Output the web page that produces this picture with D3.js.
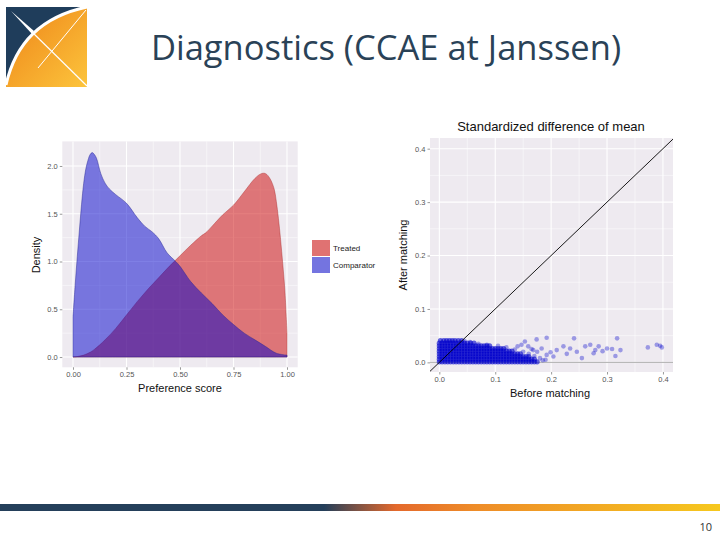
<!DOCTYPE html>
<html>
<head>
<meta charset="utf-8">
<script src="https://cdn.jsdelivr.net/npm/d3@7"></script>
<style>
body { margin: 0; background: #fff; }
svg { display: block; }
</style>
</head>
<body>
<svg id="slide" width="720" height="540"></svg>
<script>
// ---- data ----

// preference score distribution (left panel)
var treatedX = [0, 0.02, 0.05, 0.08, 0.10, 0.15, 0.20, 0.25, 0.30, 0.35, 0.40, 0.45, 0.50, 0.55, 0.60, 0.62, 0.65, 0.70, 0.75, 0.80, 0.85, 0.88, 0.90, 0.92, 0.94, 0.95, 0.96, 0.97, 0.98, 0.99, 1.00];
var treatedY = [0, 0.005, 0.02, 0.05, 0.08, 0.18, 0.30, 0.44, 0.58, 0.71, 0.83, 0.95, 1.06, 1.17, 1.27, 1.30, 1.37, 1.49, 1.59, 1.73, 1.87, 1.92, 1.92, 1.87, 1.76, 1.63, 1.45, 1.23, 0.98, 0.70, 0.25];
var comparatorX = [0, 0.01, 0.02, 0.03, 0.04, 0.05, 0.06, 0.07, 0.08, 0.09, 0.10, 0.11, 0.13, 0.15, 0.17, 0.20, 0.25, 0.30, 0.335, 0.37, 0.40, 0.44, 0.48, 0.50, 0.55, 0.60, 0.65, 0.70, 0.75, 0.80, 0.85, 0.90, 0.95, 1.00];
var comparatorY = [0.42, 0.75, 1.05, 1.33, 1.60, 1.82, 1.97, 2.06, 2.12, 2.14, 2.12, 2.08, 1.92, 1.82, 1.76, 1.70, 1.61, 1.46, 1.37, 1.31, 1.24, 1.09, 1.00, 0.95, 0.79, 0.67, 0.56, 0.44, 0.34, 0.25, 0.18, 0.11, 0.04, 0.02];
var prefTicks = [0, 0.25, 0.5, 0.75, 1];
var prefTickLabels = ["0.00", "0.25", "0.50", "0.75", "1.00"];
var densityTicks = [0, 0.5, 1, 1.5, 2];
var densityTickLabels = ["0.0", "0.5", "1.0", "1.5", "2.0"];
var groups = ["Treated", "Comparator"];

// standardized difference of mean (right panel)
// the dense blob near the origin, one row per after-matching level
var blobRows = [
  { y: 0.041, xs: [0.002, 0.008, 0.013, 0.018, 0.023, 0.028, 0.034, 0.040] },
  { y: 0.036, xs: [0, 0.005, 0.010, 0.015, 0.020, 0.025, 0.030, 0.035, 0.040, 0.045, 0.050, 0.056, 0.062] },
  { y: 0.031, xs: [0, 0.005, 0.010, 0.015, 0.020, 0.025, 0.030, 0.035, 0.040, 0.045, 0.050, 0.055, 0.060, 0.065, 0.070, 0.075, 0.080, 0.085, 0.090] },
  { y: 0.026, xs: [0, 0.005, 0.010, 0.015, 0.020, 0.025, 0.030, 0.035, 0.040, 0.045, 0.050, 0.055, 0.060, 0.065, 0.070, 0.075, 0.080, 0.085, 0.090, 0.095, 0.100, 0.105, 0.110, 0.115] },
  { y: 0.021, xs: [0, 0.005, 0.010, 0.015, 0.020, 0.025, 0.030, 0.035, 0.040, 0.045, 0.050, 0.055, 0.060, 0.065, 0.070, 0.075, 0.080, 0.085, 0.090, 0.095, 0.100, 0.105, 0.110, 0.115, 0.120, 0.125, 0.130] },
  { y: 0.016, xs: [0, 0.005, 0.010, 0.015, 0.020, 0.025, 0.030, 0.035, 0.040, 0.045, 0.050, 0.055, 0.060, 0.065, 0.070, 0.075, 0.080, 0.085, 0.090, 0.095, 0.100, 0.105, 0.110, 0.115, 0.120, 0.125, 0.130, 0.135, 0.140, 0.145] },
  { y: 0.011, xs: [0, 0.005, 0.010, 0.015, 0.020, 0.025, 0.030, 0.035, 0.040, 0.045, 0.050, 0.055, 0.060, 0.065, 0.070, 0.075, 0.080, 0.085, 0.090, 0.095, 0.100, 0.105, 0.110, 0.115, 0.120, 0.125, 0.130, 0.135, 0.140, 0.145, 0.150, 0.155, 0.160] },
  { y: 0.006, xs: [0, 0.005, 0.010, 0.015, 0.020, 0.025, 0.030, 0.035, 0.040, 0.045, 0.050, 0.055, 0.060, 0.065, 0.070, 0.075, 0.080, 0.085, 0.090, 0.095, 0.100, 0.105, 0.110, 0.115, 0.120, 0.125, 0.130, 0.135, 0.140, 0.145, 0.150, 0.155, 0.160, 0.165, 0.170] },
  { y: 0.001, xs: [0, 0.005, 0.010, 0.015, 0.020, 0.025, 0.030, 0.035, 0.040, 0.045, 0.050, 0.055, 0.060, 0.065, 0.070, 0.075, 0.080, 0.085, 0.090, 0.095, 0.100, 0.105, 0.110, 0.115, 0.120, 0.125, 0.130, 0.135, 0.140, 0.145, 0.150, 0.155, 0.160, 0.165, 0.170, 0.175] }
];
// loose covariates around and beyond the blob
var looseBefore = [0.045, 0.055, 0.070, 0.085, 0.105, 0.120, 0.135, 0.140, 0.150, 0.160, 0.165, 0.170, 0.175, 0.180, 0.185, 0.190,
                   0.147, 0.153, 0.159, 0.168, 0.174, 0.183, 0.192, 0.192, 0.204, 0.210, 0.222, 0.234, 0.241, 0.246, 0.255, 0.261,
                   0.270, 0.276, 0.279, 0.285, 0.300, 0.309, 0.315, 0.318, 0.324, 0.373, 0.389, 0.395, 0.398, 0.199, 0.228, 0.292];
var looseAfter  = [0.040, 0.038, 0.035, 0.033, 0.031, 0.028, 0.024, 0.030, 0.020, 0.016, 0.025, 0.012, 0.020, 0.008, 0.004, 0.005,
                   0.033, 0.039, 0.030, 0.023, 0.043, 0.026, 0.014, 0.046, 0.011, 0.023, 0.030, 0.026, 0.045, 0.020, 0.008, 0.030,
                   0.033, 0.017, 0.023, 0.030, 0.026, 0.025, 0.012, 0.045, 0.023, 0.028, 0.033, 0.031, 0.028, 0.019, 0.016, 0.021];
var sdmTicks = [0, 0.1, 0.2, 0.3, 0.4];
var sdmTickLabels = ["0.0", "0.1", "0.2", "0.3", "0.4"];

// ---- drawing ----
var svg = d3.select("#slide");
var defs = svg.append("defs");
var chartFont = "'Liberation Sans', Arial, sans-serif";
var panelBg = "#EEEAF0";
var tickGrey = "#555";

// logo
var logoGrad = defs.append("linearGradient").attr("id", "logoGrad")
  .attr("x1", "0").attr("y1", "0").attr("x2", "1").attr("y2", "1");
logoGrad.append("stop").attr("offset", "0%").attr("stop-color", "#EE8418");
logoGrad.append("stop").attr("offset", "100%").attr("stop-color", "#FCC43C");

var logo = svg.append("g");
logo.append("rect").attr("x", 6).attr("y", 7).attr("width", 81).attr("height", 80).attr("fill", "#1F3D5B");
logo.append("path").attr("d", "M6,85 Q20,21 87,7 L87,87 L6,87 Z").attr("fill", "url(#logoGrad)");
logo.append("path").attr("d", "M6,85 Q20,21 87,7").attr("fill", "none").attr("stroke", "#fff").attr("stroke-width", 3);
logo.append("path").attr("d", "M11,11 L34,31 L32,34 Z").attr("fill", "#fff");
logo.append("line").attr("x1", 30).attr("y1", 30).attr("x2", 87).attr("y2", 86).attr("stroke", "#fff").attr("stroke-width", 1.2);
logo.append("line").attr("x1", 38).attr("y1", 68).attr("x2", 86).attr("y2", 10).attr("stroke", "#fff").attr("stroke-width", 1);

// title
svg.append("text").attr("x", 386).attr("y", 60).attr("text-anchor", "middle")
  .attr("font-family", "'Open Sans', sans-serif").attr("font-size", 34.5)
  .attr("fill", "#2A4257").text("Diagnostics (CCAE at Janssen)");

// bottom bar and page number
var barGrad = defs.append("linearGradient").attr("id", "barGrad");
barGrad.append("stop").attr("offset", "0%").attr("stop-color", "#243F5A");
barGrad.append("stop").attr("offset", "45%").attr("stop-color", "#243F5A");
barGrad.append("stop").attr("offset", "55%").attr("stop-color", "#E4692C");
barGrad.append("stop").attr("offset", "66%").attr("stop-color", "#EE8C28");
barGrad.append("stop").attr("offset", "100%").attr("stop-color", "#F6C81E");
svg.append("rect").attr("x", 0).attr("y", 504).attr("width", 720).attr("height", 7).attr("fill", "url(#barGrad)");
svg.append("text").attr("x", 712).attr("y", 531).attr("text-anchor", "end")
  .attr("font-family", "'Open Sans', sans-serif").attr("font-size", 11).attr("fill", "#333").text("10");

// shared helper for ggplot-like panels
function drawPanel(g, x, y, xMajor, xMinor, yMajor, yMinor) {
  var x0 = x.range()[0], x1 = x.range()[1], y0 = y.range()[0], y1 = y.range()[1];
  g.append("rect").attr("x", x0).attr("y", y1).attr("width", x1 - x0).attr("height", y0 - y1).attr("fill", panelBg);
  g.selectAll(".vmin").data(xMinor).enter().append("line")
    .attr("x1", d => x(d)).attr("x2", d => x(d)).attr("y1", y0).attr("y2", y1)
    .attr("stroke", "#fff").attr("stroke-width", 0.5);
  g.selectAll(".hmin").data(yMinor).enter().append("line")
    .attr("y1", d => y(d)).attr("y2", d => y(d)).attr("x1", x0).attr("x2", x1)
    .attr("stroke", "#fff").attr("stroke-width", 0.5);
  g.selectAll(".vmaj").data(xMajor).enter().append("line")
    .attr("x1", d => x(d)).attr("x2", d => x(d)).attr("y1", y0).attr("y2", y1)
    .attr("stroke", "#fff").attr("stroke-width", 1.1);
  g.selectAll(".hmaj").data(yMajor).enter().append("line")
    .attr("y1", d => y(d)).attr("y2", d => y(d)).attr("x1", x0).attr("x2", x1)
    .attr("stroke", "#fff").attr("stroke-width", 1.1);
}

function styleAxis(a) {
  a.select(".domain").remove();
  a.selectAll(".tick line").attr("stroke", tickGrey).attr("stroke-width", 0.6);
  a.selectAll(".tick text").attr("fill", tickGrey).attr("font-family", chartFont).attr("font-size", 7.5);
}

// ---- left panel: preference score ----
var xL = d3.scaleLinear().domain([-0.05, 1.05]).range([62.3, 297.7]);
var yL = d3.scaleLinear().domain([-0.1075, 2.2575]).range([367.3, 141.4]);
var left = svg.append("g");
drawPanel(left, xL, yL, prefTicks, [0.125, 0.375, 0.625, 0.875], densityTicks, [0.25, 0.75, 1.25, 1.75]);

var fills = { Treated: "rgba(204,0,0,0.5)", Comparator: "rgba(0,0,204,0.5)" };
var strokes = { Treated: "rgba(170,40,40,0.7)", Comparator: "rgba(40,40,150,0.8)" };
var curves = {
  Treated: d3.zip(treatedX, treatedY),
  Comparator: d3.zip(comparatorX, comparatorY)
};
var area = d3.area().curve(d3.curveCatmullRom)
  .x(d => xL(d[0])).y0(yL(0)).y1(d => yL(d[1]));
groups.forEach(function (k) {
  left.append("path").datum(curves[k]).attr("d", area)
    .attr("fill", fills[k]).attr("stroke", strokes[k]).attr("stroke-width", 0.6);
});

var axL = left.append("g").attr("transform", "translate(0," + 367.3 + ")")
  .call(d3.axisBottom(xL).tickValues(prefTicks).tickFormat((d, i) => prefTickLabels[i]).tickSize(2.5).tickPadding(2));
styleAxis(axL);
var ayL = left.append("g").attr("transform", "translate(62.3,0)")
  .call(d3.axisLeft(yL).tickValues(densityTicks).tickFormat((d, i) => densityTickLabels[i]).tickSize(2.5).tickPadding(2));
styleAxis(ayL);

left.append("text").attr("x", 180).attr("y", 392).attr("text-anchor", "middle")
  .attr("font-family", chartFont).attr("font-size", 11).attr("fill", "#111").text("Preference score");
left.append("text").attr("transform", "translate(40,255) rotate(-90)").attr("text-anchor", "middle")
  .attr("font-family", chartFont).attr("font-size", 11).attr("fill", "#111").text("Density");

// legend
var legendFill = { Treated: "#E07272", Comparator: "#7474E0" };
var legend = svg.append("g").attr("transform", "translate(312,240)");
groups.forEach(function (k, i) {
  legend.append("rect").attr("x", 0).attr("y", i * 17).attr("width", 18).attr("height", 16)
    .attr("fill", legendFill[k]);
  legend.append("text").attr("x", 21).attr("y", i * 17 + 11).attr("font-family", chartFont)
    .attr("font-size", 8).attr("fill", "#222").text(k);
});

// ---- right panel: standardized difference of mean ----
var xR = d3.scaleLinear().domain([-0.0167, 0.418]).range([430, 673]);
var yR = d3.scaleLinear().domain([-0.018, 0.42]).range([372, 138]);
var right = svg.append("g");
drawPanel(right, xR, yR, sdmTicks, [0.05, 0.15, 0.25, 0.35], sdmTicks, [0.05, 0.15, 0.25, 0.35]);

defs.append("clipPath").attr("id", "clipR").append("rect")
  .attr("x", 430).attr("y", 138).attr("width", 243).attr("height", 234);

var points = [];
blobRows.forEach(function (r) { r.xs.forEach(function (xv) { points.push([xv, r.y, 1]); }); });
looseBefore.forEach(function (xv, i) { points.push([xv, looseAfter[i], 0]); });

var plotR = right.append("g").attr("clip-path", "url(#clipR)");
plotR.append("line").attr("x1", xR(-0.02)).attr("x2", xR(0.42)).attr("y1", yR(0)).attr("y2", yR(0))
  .attr("stroke", "#999").attr("stroke-width", 0.8);
plotR.selectAll("circle").data(points).enter().append("circle")
  .attr("cx", d => xR(d[0])).attr("cy", d => yR(d[1])).attr("r", d => d[2] ? 2.6 : 2.3)
  .attr("fill", "#0000CC").attr("fill-opacity", d => d[2] ? 0.6 : 0.35);
plotR.append("line").attr("x1", xR(-0.03)).attr("y1", yR(-0.03)).attr("x2", xR(0.43)).attr("y2", yR(0.43))
  .attr("stroke", "#000").attr("stroke-width", 0.9);

var axR = right.append("g").attr("transform", "translate(0,372)")
  .call(d3.axisBottom(xR).tickValues(sdmTicks).tickFormat((d, i) => sdmTickLabels[i]).tickSize(2.5).tickPadding(2));
styleAxis(axR);
var ayR = right.append("g").attr("transform", "translate(430,0)")
  .call(d3.axisLeft(yR).tickValues(sdmTicks).tickFormat((d, i) => sdmTickLabels[i]).tickSize(2.5).tickPadding(2));
styleAxis(ayR);

right.append("text").attr("x", 551).attr("y", 131).attr("text-anchor", "middle")
  .attr("font-family", chartFont).attr("font-size", 13).attr("fill", "#111").text("Standardized difference of mean");
right.append("text").attr("x", 550).attr("y", 397).attr("text-anchor", "middle")
  .attr("font-family", chartFont).attr("font-size", 11).attr("fill", "#111").text("Before matching");
right.append("text").attr("transform", "translate(407,255) rotate(-90)").attr("text-anchor", "middle")
  .attr("font-family", chartFont).attr("font-size", 11).attr("fill", "#111").text("After matching");
</script>
</body>
</html>
